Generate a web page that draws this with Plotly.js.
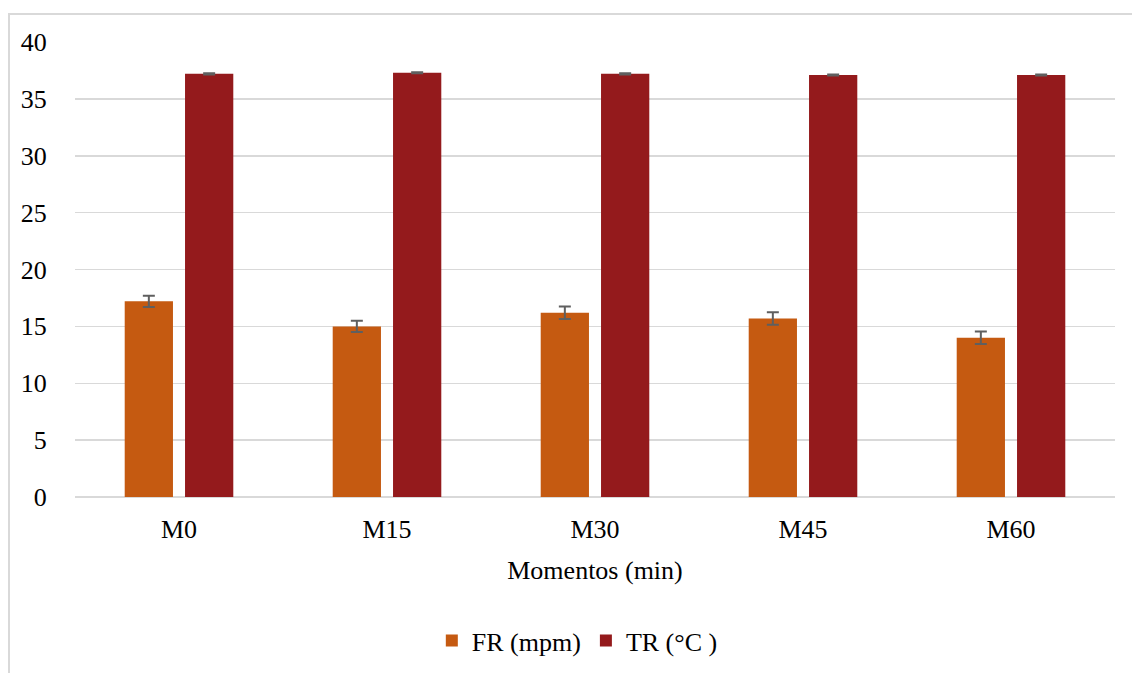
<!DOCTYPE html>
<html>
<head>
<meta charset="utf-8">
<script src="https://cdn.plot.ly/plotly-3.0.1.min.js"></script>
<style>
html,body{margin:0;padding:0;background:#fff;overflow:hidden;}
#frame{position:absolute;left:8px;top:13px;width:1140px;height:680px;border:2px solid #d9d9d9;box-sizing:border-box;}
#chart{position:absolute;left:0;top:0;width:1132px;height:673px;}
</style>
</head>
<body>
<div id="frame"></div>
<div id="chart"></div>
<script>
const categories = ['M0','M15','M30','M45','M60'];
const frValues = [17.2, 15.0, 16.2, 15.7, 14.0];
const frErrors = [0.5, 0.5, 0.55, 0.55, 0.55];
const trValues = [37.2, 37.3, 37.2, 37.1, 37.1];
const trErrors = [0.05, 0.05, 0.05, 0.05, 0.05];
const seriesNames = ['FR (mpm)', 'TR (°C )'];
const yTicks = [0,5,10,15,20,25,30,35,40];

const font = 'Liberation Serif';
const errStyle = {type:'data', visible:true, color:'#5f5f5f', thickness:2, width:6};

const traces = [
  {type:'bar', name:seriesNames[0], x:categories, y:frValues,
   marker:{color:'#c55a11'}, error_y:Object.assign({array:frErrors}, errStyle)},
  {type:'bar', name:seriesNames[1], x:categories, y:trValues,
   marker:{color:'#941a1c'}, error_y:Object.assign({array:trErrors}, errStyle)}
];

const layout = {
  width:1132, height:673,
  paper_bgcolor:'rgba(0,0,0,0)', plot_bgcolor:'rgba(0,0,0,0)',
  margin:{l:75, r:17, t:42, b:176},
  font:{family:font, size:26, color:'#000'},
  barmode:'group', bargap:0.42, bargroupgap:0.2,
  showlegend:true,
  legend:{orientation:'h', x:0.483, xanchor:'center', xref:'paper',
          y:0.048, yref:'container', yanchor:'middle',
          font:{family:font, size:26, color:'#000'}, itemwidth:30, traceorder:'normal'},
  xaxis:{type:'category', showgrid:false, zeroline:false, showline:false,
         ticks:'outside', ticklen:9, tickcolor:'rgba(0,0,0,0)',
         automargin:false,
         title:{text:'Momentos (min)', font:{family:font, size:26, color:'#000'}, standoff:17}},
  yaxis:{range:[0,40], tickvals:yTicks, showgrid:true, gridcolor:'#d9d9d9', gridwidth:1.5,
         zeroline:true, zerolinecolor:'#d9d9d9', zerolinewidth:2, showline:false,
         automargin:false,
         ticks:'outside', ticklen:22, tickcolor:'rgba(0,0,0,0)'}
};

Plotly.newPlot('chart', traces, layout, {displayModeBar:false, staticPlot:true});
</script>
</body>
</html>
